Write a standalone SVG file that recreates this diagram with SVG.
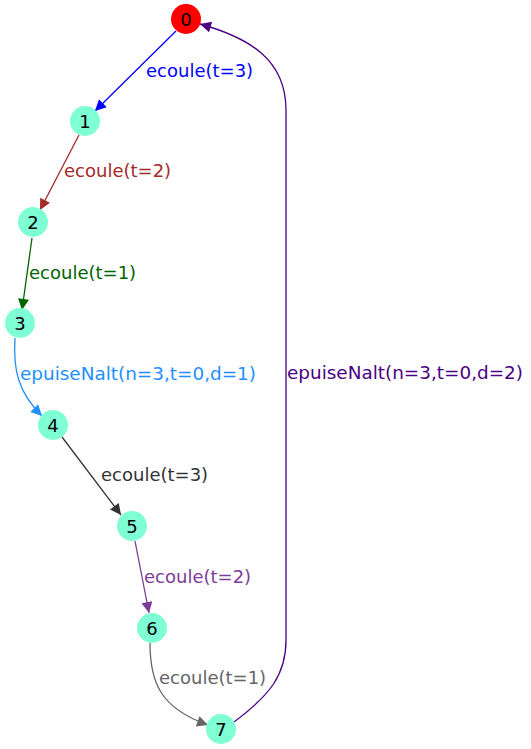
<svg xmlns="http://www.w3.org/2000/svg" width="531" height="749" viewBox="0 0 531 749">
<style>
.n{fill:#7fffd4;stroke:none}
.t{font-family:"DejaVu Sans","Liberation Sans",sans-serif;font-size:18px}
.nl{text-anchor:middle;fill:#000}
.e{fill:none;stroke-width:1.3}
</style>
<defs>
<marker id="mb" viewBox="0 0 10 10" refX="10" refY="5" markerUnits="userSpaceOnUse" markerWidth="15" markerHeight="11" orient="auto"><path d="M0,0L10,5L0,10z" fill="#0000ff"/></marker>
<marker id="mr" viewBox="0 0 10 10" refX="10" refY="5" markerUnits="userSpaceOnUse" markerWidth="15" markerHeight="11" orient="auto"><path d="M0,0L10,5L0,10z" fill="#a52a2a"/></marker>
<marker id="mg" viewBox="0 0 10 10" refX="10" refY="5" markerUnits="userSpaceOnUse" markerWidth="15" markerHeight="11" orient="auto"><path d="M0,0L10,5L0,10z" fill="#006400"/></marker>
<marker id="md" viewBox="0 0 10 10" refX="10" refY="5" markerUnits="userSpaceOnUse" markerWidth="15" markerHeight="11" orient="auto"><path d="M0,0L10,5L0,10z" fill="#1e90ff"/></marker>
<marker id="mk" viewBox="0 0 10 10" refX="10" refY="5" markerUnits="userSpaceOnUse" markerWidth="15" markerHeight="11" orient="auto"><path d="M0,0L10,5L0,10z" fill="#333333"/></marker>
<marker id="mp" viewBox="0 0 10 10" refX="10" refY="5" markerUnits="userSpaceOnUse" markerWidth="15" markerHeight="11" orient="auto"><path d="M0,0L10,5L0,10z" fill="#7d3c98"/></marker>
<marker id="ms" viewBox="0 0 10 10" refX="10" refY="5" markerUnits="userSpaceOnUse" markerWidth="15" markerHeight="11" orient="auto"><path d="M0,0L10,5L0,10z" fill="#666666"/></marker>
<marker id="mi" viewBox="0 0 10 10" refX="10" refY="5" markerUnits="userSpaceOnUse" markerWidth="15" markerHeight="11" orient="auto"><path d="M0,0L10,5L0,10z" fill="#4b0082"/></marker>
</defs>
<rect width="531" height="749" fill="#fff"/>
<g id="edges">
<path class="e" stroke="#0000ff" marker-end="url(#mb)" d="M176,31L95,111"/>
<text class="t" x="146" y="77" fill="#0000ff">ecoule(t=3)</text>
<path class="e" stroke="#a52a2a" marker-end="url(#mr)" d="M79,135L40,210"/>
<text class="t" x="64" y="177" fill="#a52a2a">ecoule(t=2)</text>
<path class="e" stroke="#006400" marker-end="url(#mg)" d="M32,238L22,310"/>
<text class="t" x="29" y="279" fill="#006400">ecoule(t=1)</text>
<path class="e" stroke="#1e90ff" marker-end="url(#md)" d="M15,338C13,370 18,392 42,416"/>
<text class="t" x="20" y="380" fill="#1e90ff" textLength="236" lengthAdjust="spacingAndGlyphs">epuiseNalt(n=3,t=0,d=1)</text>
<path class="e" stroke="#333333" marker-end="url(#mk)" d="M62,437L121,515"/>
<text class="t" x="101" y="481" fill="#333333">ecoule(t=3)</text>
<path class="e" stroke="#7d3c98" marker-end="url(#mp)" d="M135,541L149,613"/>
<text class="t" x="144" y="583" fill="#7d3c98">ecoule(t=2)</text>
<path class="e" stroke="#666666" marker-end="url(#ms)" d="M150,643C150,682 160,708 208,725"/>
<text class="t" x="159" y="684" fill="#666666">ecoule(t=1)</text>
<path class="e" stroke="#4b0082" marker-end="url(#mi)" d="M234,722C270,695 286,675 286,640L286,110C286,60 250,38 200,24"/>
<text class="t" x="287" y="379" fill="#4b0082" textLength="236" lengthAdjust="spacingAndGlyphs">epuiseNalt(n=3,t=0,d=2)</text>
</g>
<g id="node0"><circle cx="186" cy="19" r="15" fill="#ff0000"/><text class="t nl" x="186" y="25.5">0</text></g>
<g id="node1"><circle class="n" cx="85" cy="121" r="15"/><text class="t nl" x="85" y="127.5">1</text></g>
<g id="node2"><circle class="n" cx="33" cy="222" r="15"/><text class="t nl" x="33" y="228.5">2</text></g>
<g id="node3"><circle class="n" cx="20" cy="323" r="15"/><text class="t nl" x="20" y="329.5">3</text></g>
<g id="node4"><circle class="n" cx="53" cy="425" r="15"/><text class="t nl" x="53" y="431.5">4</text></g>
<g id="node5"><circle class="n" cx="132" cy="526" r="15"/><text class="t nl" x="132" y="532.5">5</text></g>
<g id="node6"><circle class="n" cx="152" cy="628" r="15"/><text class="t nl" x="152" y="634.5">6</text></g>
<g id="node7"><circle class="n" cx="221" cy="729" r="15"/><text class="t nl" x="221" y="735.5">7</text></g>
</svg>
